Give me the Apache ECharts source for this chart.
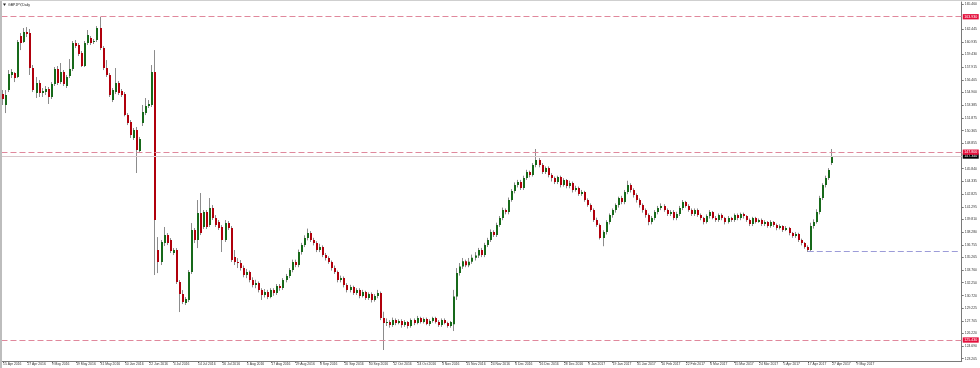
<!DOCTYPE html>
<html>
<head>
<meta charset="utf-8">
<script src="https://cdn.jsdelivr.net/npm/echarts@6/dist/echarts.min.js"></script>
<style>html,body{margin:0;padding:0;background:#fff;}#c{width:980px;height:368px;}</style>
</head>
<body>
<div id="c"></div>
<script>
// ---- data (GBPJPY Daily) ----
const dateLabels = ['15 Apr 2016','27 Apr 2016','9 May 2016','19 May 2016','31 May 2016','10 Jun 2016','22 Jun 2016','4 Jul 2016','14 Jul 2016','26 Jul 2016','5 Aug 2016','17 Aug 2016','29 Aug 2016','8 Sep 2016','20 Sep 2016','30 Sep 2016','12 Oct 2016','24 Oct 2016','3 Nov 2016','15 Nov 2016','24 Nov 2016','6 Dec 2016','16 Dec 2016','28 Dec 2016','9 Jan 2017','19 Jan 2017','31 Jan 2017','10 Feb 2017','22 Feb 2017','6 Mar 2017','15 Mar 2017','24 Mar 2017','5 Apr 2017','17 Apr 2017','27 Apr 2017','9 May 2017'];
const barsPerLabel = 8;
const yTickLabels = ['123.205','124.690','126.220','127.705','129.225','130.720','132.250','133.760','135.265','136.755','138.280','139.810','141.295','142.825','144.335','145.840','148.855','150.365','151.875','153.385','154.900','156.405','157.915','159.430','160.935','162.445','165.460'];

const open = [
154.72,153.42,155.20,156.99,157.23,156.75,161.63,160.92,162.11,161.99,
157.82,154.84,156.03,154.84,154.96,155.32,154.37,155.92,157.70,156.15,
157.34,155.68,156.87,157.70,160.80,160.56,159.61,158.06,160.80,161.39,
160.92,161.16,162.59,160.20,157.82,156.99,154.01,154.96,156.03,155.08,
154.72,152.22,151.39,149.49,150.44,147.94,151.27,152.46,153.30,153.42,
157.34,136.15,134.72,136.98,137.93,137.34,135.79,136.15,132.33,130.91,
129.83,130.19,133.52,138.53,137.34,140.55,138.89,140.67,139.12,141.15,
139.96,139.48,138.89,137.34,139.36,138.77,135.31,134.72,
134.60,134.00,133.17,133.52,132.57,131.98,132.22,131.38,130.79,131.14,130.55,131.38,
131.02,131.86,131.62,132.57,133.05,133.76,134.72,134.36,135.91,136.74,
137.57,138.17,137.34,136.98,136.15,136.50,135.55,135.19,134.72,134.00,
133.52,132.57,132.81,131.98,131.38,131.74,131.02,131.38,130.67,131.14,
130.43,130.91,130.19,130.67,131.02,128.05,127.45,127.57,127.21,127.81,
127.45,127.69,127.21,127.57,127.09,127.81,127.45,128.05,127.57,127.93,
127.33,127.69,128.05,127.57,127.21,127.81,127.45,127.09,127.30,130.60,
133.40,134.20,134.81,134.33,134.76,135.22,135.49,136.15,135.55,136.74,
137.34,138.29,137.93,139.12,139.96,140.91,140.67,142.10,143.18,143.89,
144.25,143.53,144.72,145.44,145.08,146.27,146.86,146.27,145.44,145.91,
145.08,144.72,144.25,144.84,143.89,144.48,143.77,144.13,143.29,143.53,
142.82,143.06,142.10,141.50,140.91,139.72,139.12,137.57,138.29,139.48,
140.31,140.91,141.50,142.34,141.86,143.06,143.89,143.29,142.70,142.10,
141.50,140.91,140.31,139.48,139.96,140.67,141.15,141.39,140.91,140.43,
140.67,139.96,140.43,141.15,141.86,141.39,140.91,140.43,140.91,140.31,
139.96,139.48,140.19,140.67,139.96,139.72,140.31,139.96,139.48,139.96,
139.72,140.31,139.96,140.43,140.19,139.72,139.24,139.96,139.48,139.72,
139.24,139.48,139.00,139.48,139.12,138.77,139.00,138.53,138.77,138.17,
137.81,138.05,137.34,136.98,136.50,136.15,139.00,139.48,140.67,142.34,
143.89,144.72,146.51];

const close = [
154.13,154.61,157.11,157.34,156.63,160.92,160.80,162.11,161.87,157.82,
155.20,156.03,154.84,155.08,155.32,154.37,155.92,157.70,156.03,157.34,
155.92,156.75,157.70,160.80,160.44,159.49,158.06,160.80,161.75,160.80,
161.04,162.59,160.20,157.82,156.99,154.61,155.20,156.03,154.84,154.61,
152.22,151.27,149.84,150.44,148.06,149.37,152.58,153.30,153.54,157.34,
139.72,134.72,137.10,137.93,136.98,136.03,136.15,132.33,130.91,129.95,
130.31,133.52,138.53,137.34,140.55,138.17,140.67,138.89,141.15,139.96,
139.12,138.77,137.34,139.36,138.77,134.96,134.72,134.60,
134.00,133.17,133.52,132.57,131.98,132.22,131.38,130.79,131.14,130.55,131.38,131.02,
131.86,131.62,132.57,133.05,133.76,134.72,134.36,135.91,136.74,137.57,
138.17,137.34,136.98,136.15,136.50,135.55,135.19,134.72,134.00,133.52,
132.57,132.81,131.98,131.38,131.74,131.02,131.38,130.67,131.14,130.43,
130.91,130.19,130.67,131.02,128.05,127.45,127.57,127.21,127.81,127.45,
127.69,127.21,127.57,127.09,127.81,127.45,128.05,127.57,127.93,127.33,
127.69,128.05,127.57,127.21,127.81,127.45,127.09,127.57,130.60,133.40,
134.20,134.81,134.33,134.76,135.22,135.49,136.15,135.55,136.74,137.34,
138.29,137.93,139.12,139.96,140.91,140.67,142.10,143.18,143.89,144.25,
143.53,144.72,145.44,145.08,146.27,146.86,146.27,145.44,145.91,145.08,
144.72,144.25,144.84,143.89,144.48,143.77,144.13,143.29,143.53,142.82,
143.06,142.10,141.50,140.91,139.72,139.12,137.57,138.29,139.48,140.31,
140.91,141.50,142.34,141.86,143.06,143.89,143.29,142.70,142.10,141.50,
140.91,140.31,139.48,139.96,140.67,141.15,141.39,140.91,140.43,140.67,
139.96,140.43,141.15,141.86,141.39,140.91,140.43,140.91,140.31,139.96,
139.48,140.19,140.67,139.96,139.72,140.31,139.96,139.48,139.96,139.72,
140.31,139.96,140.43,140.19,139.72,139.24,139.96,139.48,139.72,139.24,
139.48,139.00,139.48,139.12,138.77,139.00,138.53,138.77,138.17,137.81,
138.05,137.34,136.98,136.50,136.15,139.00,139.48,140.67,142.34,143.89,
144.72,145.67,147.34];

const high = [
155.20,155.20,157.58,157.70,157.34,161.16,161.99,162.59,162.70,162.47,
158.18,156.75,156.39,155.44,155.68,155.56,156.15,157.94,158.06,158.42,
157.58,156.99,158.89,161.04,161.16,160.80,159.85,161.04,162.35,161.63,
161.28,162.82,163.90,160.44,158.77,157.23,155.44,157.82,156.27,155.32,
154.96,152.46,151.63,150.68,150.80,149.61,153.42,154.25,154.01,158.18,
159.96,137.69,137.34,138.89,138.17,137.57,136.38,136.38,132.57,131.38,
130.55,133.76,139.36,138.77,142.10,142.94,140.91,140.91,142.34,141.50,
140.31,139.72,139.12,139.72,139.60,139.00,136.15,135.19,
134.95,134.30,133.90,133.70,132.90,132.60,132.40,131.60,131.50,131.40,131.60,131.60,
132.10,132.10,132.80,133.30,134.00,135.00,135.00,136.20,137.00,137.90,
138.70,138.40,137.60,137.20,136.90,136.70,135.80,135.40,134.90,134.30,
133.70,133.10,133.00,132.20,132.00,131.90,131.60,131.60,131.40,131.30,
131.10,131.10,130.90,131.40,131.20,128.80,128.00,127.80,128.10,128.00,
127.90,127.90,127.80,127.70,128.00,128.00,128.30,128.20,128.10,128.10,
127.90,128.20,128.20,127.80,128.00,128.00,127.60,127.70,131.40,134.00,
134.60,135.20,135.00,135.20,135.60,135.90,136.40,136.40,137.00,137.60,
138.60,138.50,139.40,140.20,141.20,141.10,142.40,143.40,144.20,144.50,
144.50,145.00,145.70,145.60,146.50,148.18,147.10,146.50,146.10,146.10,
145.30,144.90,145.00,145.00,144.70,144.60,144.40,144.30,143.80,143.70,
143.30,143.20,142.30,141.70,141.10,140.00,139.30,138.50,139.70,140.50,
141.10,141.70,142.50,142.60,143.30,144.40,144.10,143.50,142.90,142.30,
141.70,141.10,140.50,140.20,140.90,141.40,141.70,141.60,141.10,140.90,
140.90,140.70,141.40,142.10,142.00,141.60,141.10,141.10,141.10,140.50,
140.10,140.40,140.90,140.80,140.20,140.50,140.50,140.10,140.20,140.10,
140.50,140.50,140.60,140.60,140.30,139.90,140.10,140.10,139.90,139.90,
139.70,139.60,139.70,139.60,139.30,139.20,139.10,139.00,138.90,138.30,
138.30,138.20,137.50,137.10,136.70,139.40,139.80,141.00,142.60,144.10,
145.00,145.90,148.18];

const low = [
153.42,152.46,154.96,156.63,156.15,156.63,159.96,160.80,161.51,156.99,
154.96,154.25,154.37,154.37,154.61,153.54,154.13,155.68,155.80,155.92,
155.68,155.44,156.63,157.46,160.20,159.25,157.94,157.94,160.56,160.56,
160.68,160.92,159.96,157.58,156.75,154.37,153.77,154.72,154.61,154.37,
152.07,151.03,149.49,149.25,145.32,147.70,150.92,152.22,153.06,153.18,
133.17,133.40,134.36,136.62,136.74,135.79,135.55,132.10,128.76,129.71,
129.60,129.95,133.29,136.98,136.38,137.93,138.65,138.65,138.89,139.72,
138.89,138.53,135.91,137.10,138.53,134.72,134.36,134.00,
133.70,132.90,132.80,132.30,131.70,131.60,131.10,130.20,130.50,130.30,130.40,130.70,
130.80,131.30,131.40,132.30,132.80,133.50,134.10,134.10,135.60,136.50,
137.30,137.10,136.70,135.90,135.90,135.30,134.90,134.50,133.70,133.30,
132.30,132.30,131.70,131.10,131.10,130.80,130.80,130.40,130.50,130.20,
130.20,129.90,130.00,130.40,127.80,124.24,127.10,126.90,127.00,127.20,
127.30,126.90,127.00,126.80,126.90,127.20,127.30,127.40,127.40,127.20,
127.10,127.50,127.40,127.00,127.00,127.30,126.90,126.90,126.50,130.20,
133.10,133.90,134.10,134.10,134.50,134.90,135.20,135.30,135.30,136.50,
137.10,137.70,137.70,138.90,139.70,140.40,140.40,141.90,142.90,143.60,
143.30,143.30,144.50,144.80,144.90,146.00,146.00,145.20,145.20,144.80,
144.30,144.00,144.00,143.60,143.70,143.50,143.50,143.00,143.10,142.60,
142.60,141.90,141.30,140.70,139.50,138.90,137.40,136.60,138.00,139.20,
140.00,140.60,141.20,141.60,141.60,142.80,143.00,142.40,141.80,141.20,
140.60,140.00,139.10,139.20,139.70,140.40,140.90,140.70,140.20,140.20,
139.70,139.70,140.20,140.90,141.20,140.70,140.20,140.20,140.10,139.70,
139.20,139.30,139.90,139.80,139.50,139.50,139.70,139.20,139.30,139.50,
139.50,139.70,139.70,139.90,139.50,139.00,139.00,139.30,139.40,139.00,
139.00,138.80,138.80,138.90,138.50,138.60,138.30,138.40,137.90,137.60,
137.60,137.10,136.70,136.30,135.91,136.00,138.70,139.30,140.40,142.10,
143.60,144.50,146.27];

// horizontal levels
const resistanceTop = 163.93;
const resistanceMid = 147.80;
const supportLow = 125.43;
const bidPrice = 147.34;
const aprilLow = 135.95;
const aprilLowBar = 264;

// ---- chart ----
const totalSlots = 315;
const categories = [];
for (let i = 0; i < totalSlots; i++) categories.push(String(i));
const candles = open.map((o, i) => [i, o, close[i], low[i], high[i]]);

const GREEN = '#17691a', RED = '#b0000c', WICK = '#8c8c8c';
const FONT = 'Liberation Sans';
const AXFS = 3.4;
const isLabelIdx = (idx) => idx % barsPerLabel === 0 && idx / barsPerLabel < dateLabels.length;

const boxLabel = (bg, txt) => ({
  show: true, position: 'end', distance: 1,
  formatter: txt, backgroundColor: bg, color: '#fff',
  fontSize: 3.6, fontFamily: FONT, padding: [1, 1.5, 0.5, 1.5], lineHeight: 3.8
});
const redDash = { color: '#e0889c', type: [6, 3], width: 1 };

const chart = echarts.init(document.getElementById('c'), null, { renderer: 'canvas' });
chart.setOption({
  animation: false,
  backgroundColor: '#ffffff',
  title: {
    text: 'GBPJPY,Daily', left: 8, top: 3, padding: 0,
    textStyle: { fontSize: 3.5, fontWeight: 'normal', color: '#222', fontFamily: FONT }
  },
  grid: { left: 0.5, right: 16, top: 2, bottom: 7, containLabel: false },
  xAxis: {
    type: 'category', data: categories, boundaryGap: true,
    axisLine: { show: true, lineStyle: { color: '#7a7a7a', width: 1 } },
    axisTick: { show: true, alignWithLabel: true, length: 2, interval: isLabelIdx, lineStyle: { color: '#7a7a7a' } },
    axisLabel: {
      interval: isLabelIdx, align: 'left', margin: 1.8,
      formatter: (v, idx) => dateLabels[idx / barsPerLabel] || '',
      fontSize: AXFS, color: '#333', fontFamily: FONT
    },
    splitLine: { show: false }
  },
  yAxis: {
    type: 'value', position: 'right', min: 122.931, max: 165.685, scale: true,
    axisLine: { show: true, lineStyle: { color: '#7a7a7a', width: 1 } },
    axisTick: { show: true, length: 2, customValues: yTickLabels.map(Number), lineStyle: { color: '#7a7a7a' } },
    axisLabel: {
      customValues: yTickLabels.map(Number), margin: 3,
      formatter: (v) => v.toFixed(3),
      fontSize: AXFS, color: '#333', fontFamily: FONT
    },
    splitLine: { show: false }
  },
  series: [{
    type: 'custom',
    data: candles,
    encode: { x: 0, y: [1, 2, 3, 4] },
    clip: true,
    renderItem: (params, api) => {
      const i = api.value(0);
      const o = api.value(1), c = api.value(2), l = api.value(3), h = api.value(4);
      const pO = api.coord([i, o]), pC = api.coord([i, c]);
      const pL = api.coord([i, l]), pH = api.coord([i, h]);
      const cx = Math.round(pO[0]);
      const top = Math.min(pO[1], pC[1]);
      const bot = Math.max(pO[1], pC[1]);
      return {
        type: 'group',
        children: [
          { type: 'line', shape: { x1: cx - 0.5, y1: pH[1], x2: cx - 0.5, y2: pL[1] }, style: { stroke: WICK, lineWidth: 1 } },
          { type: 'rect', shape: { x: cx - 1, y: top, width: 2, height: Math.max(1, bot - top) }, style: { fill: c >= o ? GREEN : RED } }
        ]
      };
    },
    markLine: {
      silent: true, symbol: 'none', animation: false,
      data: [
        { yAxis: bidPrice, lineStyle: { color: '#d9c8cc', type: 'solid', width: 1 }, label: boxLabel('#000000', bidPrice.toFixed(3)) },
        { yAxis: resistanceTop, lineStyle: redDash, label: boxLabel('#e4103c', resistanceTop.toFixed(3)) },
        { yAxis: resistanceMid, lineStyle: redDash, label: boxLabel('#e4103c', resistanceMid.toFixed(3)) },
        { yAxis: supportLow, lineStyle: redDash, label: boxLabel('#e4103c', supportLow.toFixed(3)) },
        [
          { coord: [aprilLowBar, aprilLow], lineStyle: { color: '#9c9cd8', type: [6, 3], width: 1 }, label: { show: false } },
          { coord: [totalSlots - 1, aprilLow] }
        ]
      ]
    }
  }],
  graphic: [
    { type: 'rect', shape: { x: 0, y: 0, width: 2, height: 368 }, style: { fill: '#bdbdbd' }, z: 100 },
    { type: 'rect', shape: { x: 0, y: 0, width: 980, height: 1 }, style: { fill: '#cfcfcf' }, z: 100 },
    { type: 'polygon', shape: { points: [[3, 3.5], [6, 3.5], [4.5, 6]] }, style: { fill: '#222' }, z: 100 }
  ]
});
</script>
</body>
</html>
